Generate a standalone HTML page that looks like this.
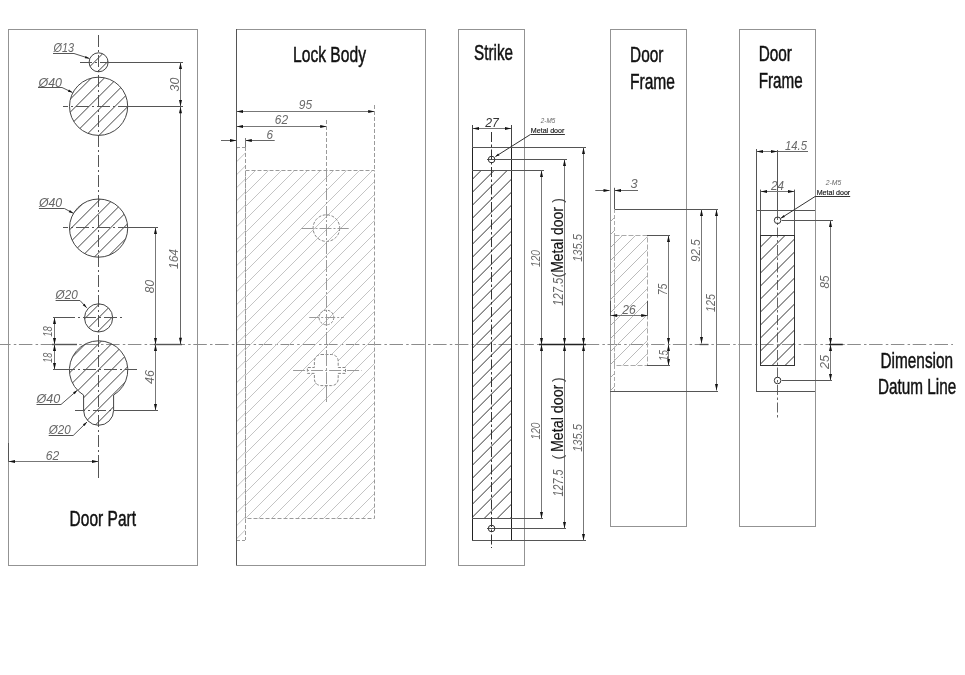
<!DOCTYPE html>
<html><head><meta charset="utf-8"><style>html,body{margin:0;padding:0;background:#fff;}svg{display:block;will-change:transform}</style></head>
<body><svg width="965" height="675" viewBox="0 0 965 675" fill="none">
<rect x="8.5" y="29.5" width="189" height="536" stroke="#939393" stroke-width="1" fill="none"/>
<rect x="236.5" y="29.5" width="189" height="536" stroke="#939393" stroke-width="1" fill="none"/>
<rect x="458.5" y="29.5" width="66" height="536" stroke="#939393" stroke-width="1" fill="none"/>
<rect x="610.5" y="29.5" width="76" height="497" stroke="#939393" stroke-width="1" fill="none"/>
<rect x="739.5" y="29.5" width="76" height="497" stroke="#939393" stroke-width="1" fill="none"/>
<line x1="0" y1="344.5" x2="953" y2="344.5" stroke="#8c8c8c" stroke-width="1" stroke-dasharray="13.5,3.2,2.5,2.6" stroke-dashoffset="2.9"/>
<line x1="98.5" y1="35" x2="98.5" y2="478" stroke="#555" stroke-width="1" stroke-dasharray="12,3,2,3"/>
<clipPath id="c13"><circle cx="98.6" cy="62.3" r="9.5"/></clipPath><g clip-path="url(#c13)">
<line x1="56.60000000000001" y1="73.8" x2="79.60000000000001" y2="50.8" stroke="#444" stroke-width="1"/>
<line x1="69.60000000000001" y1="73.8" x2="92.60000000000001" y2="50.8" stroke="#444" stroke-width="1"/>
<line x1="82.60000000000001" y1="73.8" x2="105.60000000000001" y2="50.8" stroke="#444" stroke-width="1"/>
<line x1="95.60000000000001" y1="73.8" x2="118.60000000000001" y2="50.8" stroke="#444" stroke-width="1"/>
<line x1="108.60000000000001" y1="73.8" x2="131.60000000000002" y2="50.8" stroke="#444" stroke-width="1"/>
</g>
<circle cx="98.6" cy="62.3" r="9.5" stroke="#444" stroke-width="1" fill="none"/>
<clipPath id="c40a"><circle cx="98.6" cy="106.3" r="29.1"/></clipPath><g clip-path="url(#c40a)">
<line x1="6.0" y1="137.4" x2="68.20000000000002" y2="75.19999999999999" stroke="#444" stroke-width="1"/>
<line x1="19.0" y1="137.4" x2="81.20000000000002" y2="75.19999999999999" stroke="#444" stroke-width="1"/>
<line x1="32.0" y1="137.4" x2="94.20000000000002" y2="75.19999999999999" stroke="#444" stroke-width="1"/>
<line x1="45.0" y1="137.4" x2="107.20000000000002" y2="75.19999999999999" stroke="#444" stroke-width="1"/>
<line x1="58.0" y1="137.4" x2="120.20000000000002" y2="75.19999999999999" stroke="#444" stroke-width="1"/>
<line x1="71.0" y1="137.4" x2="133.20000000000002" y2="75.19999999999999" stroke="#444" stroke-width="1"/>
<line x1="84.0" y1="137.4" x2="146.20000000000002" y2="75.19999999999999" stroke="#444" stroke-width="1"/>
<line x1="97.0" y1="137.4" x2="159.20000000000002" y2="75.19999999999999" stroke="#444" stroke-width="1"/>
<line x1="110.0" y1="137.4" x2="172.20000000000002" y2="75.19999999999999" stroke="#444" stroke-width="1"/>
<line x1="122.99999999999997" y1="137.4" x2="185.2" y2="75.19999999999999" stroke="#444" stroke-width="1"/>
<line x1="135.99999999999997" y1="137.4" x2="198.2" y2="75.19999999999999" stroke="#444" stroke-width="1"/>
</g>
<circle cx="98.6" cy="106.3" r="29.1" stroke="#444" stroke-width="1" fill="none"/>
<clipPath id="c40b"><circle cx="98.6" cy="228.1" r="29.1"/></clipPath><g clip-path="url(#c40b)">
<line x1="1.1999999999999886" y1="259.2" x2="63.39999999999998" y2="197.0" stroke="#444" stroke-width="1"/>
<line x1="14.199999999999989" y1="259.2" x2="76.39999999999998" y2="197.0" stroke="#444" stroke-width="1"/>
<line x1="27.19999999999999" y1="259.2" x2="89.39999999999998" y2="197.0" stroke="#444" stroke-width="1"/>
<line x1="40.19999999999999" y1="259.2" x2="102.39999999999998" y2="197.0" stroke="#444" stroke-width="1"/>
<line x1="53.19999999999999" y1="259.2" x2="115.39999999999998" y2="197.0" stroke="#444" stroke-width="1"/>
<line x1="66.19999999999999" y1="259.2" x2="128.39999999999998" y2="197.0" stroke="#444" stroke-width="1"/>
<line x1="79.19999999999999" y1="259.2" x2="141.39999999999998" y2="197.0" stroke="#444" stroke-width="1"/>
<line x1="92.19999999999999" y1="259.2" x2="154.39999999999998" y2="197.0" stroke="#444" stroke-width="1"/>
<line x1="105.19999999999999" y1="259.2" x2="167.39999999999998" y2="197.0" stroke="#444" stroke-width="1"/>
<line x1="118.19999999999999" y1="259.2" x2="180.39999999999998" y2="197.0" stroke="#444" stroke-width="1"/>
<line x1="131.2" y1="259.2" x2="193.39999999999998" y2="197.0" stroke="#444" stroke-width="1"/>
</g>
<circle cx="98.6" cy="228.1" r="29.1" stroke="#444" stroke-width="1" fill="none"/>
<clipPath id="c20a"><circle cx="98.6" cy="317.9" r="14.1"/></clipPath><g clip-path="url(#c20a)">
<line x1="43.39999999999998" y1="334.0" x2="75.60000000000002" y2="301.79999999999995" stroke="#444" stroke-width="1"/>
<line x1="56.39999999999998" y1="334.0" x2="88.60000000000002" y2="301.79999999999995" stroke="#444" stroke-width="1"/>
<line x1="69.39999999999998" y1="334.0" x2="101.60000000000002" y2="301.79999999999995" stroke="#444" stroke-width="1"/>
<line x1="82.39999999999998" y1="334.0" x2="114.60000000000002" y2="301.79999999999995" stroke="#444" stroke-width="1"/>
<line x1="95.39999999999998" y1="334.0" x2="127.60000000000002" y2="301.79999999999995" stroke="#444" stroke-width="1"/>
<line x1="108.39999999999998" y1="334.0" x2="140.60000000000002" y2="301.79999999999995" stroke="#444" stroke-width="1"/>
<line x1="121.39999999999998" y1="334.0" x2="153.60000000000002" y2="301.79999999999995" stroke="#444" stroke-width="1"/>
</g>
<circle cx="98.6" cy="317.9" r="14.1" stroke="#444" stroke-width="1" fill="none"/>
<clipPath id="kh"><circle cx="98.6" cy="370.0" r="29.2"/><circle cx="98.6" cy="410.3" r="15.0"/><rect x="83.6" y="370.0" width="30.0" height="40.30000000000001"/></clipPath><g clip-path="url(#kh)">
<line x1="-23.900000000000034" y1="427.3" x2="64.59999999999997" y2="338.8" stroke="#444" stroke-width="1"/>
<line x1="-10.900000000000034" y1="427.3" x2="77.59999999999997" y2="338.8" stroke="#444" stroke-width="1"/>
<line x1="2.099999999999966" y1="427.3" x2="90.59999999999997" y2="338.8" stroke="#444" stroke-width="1"/>
<line x1="15.099999999999966" y1="427.3" x2="103.59999999999997" y2="338.8" stroke="#444" stroke-width="1"/>
<line x1="28.099999999999966" y1="427.3" x2="116.59999999999997" y2="338.8" stroke="#444" stroke-width="1"/>
<line x1="41.099999999999966" y1="427.3" x2="129.59999999999997" y2="338.8" stroke="#444" stroke-width="1"/>
<line x1="54.099999999999966" y1="427.3" x2="142.59999999999997" y2="338.8" stroke="#444" stroke-width="1"/>
<line x1="67.09999999999997" y1="427.3" x2="155.59999999999997" y2="338.8" stroke="#444" stroke-width="1"/>
<line x1="80.09999999999997" y1="427.3" x2="168.59999999999997" y2="338.8" stroke="#444" stroke-width="1"/>
<line x1="93.09999999999997" y1="427.3" x2="181.59999999999997" y2="338.8" stroke="#444" stroke-width="1"/>
<line x1="106.09999999999997" y1="427.3" x2="194.59999999999997" y2="338.8" stroke="#444" stroke-width="1"/>
<line x1="119.09999999999997" y1="427.3" x2="207.59999999999997" y2="338.8" stroke="#444" stroke-width="1"/>
<line x1="132.09999999999997" y1="427.3" x2="220.59999999999997" y2="338.8" stroke="#444" stroke-width="1"/>
</g>
<path d="M 83.60 395.05 A 29.2 29.2 0 1 1 113.60 395.05 L 113.60 410.3 A 15.0 15.0 0 0 1 83.60 410.3 Z" stroke="#444" fill="none"/>
<line x1="80" y1="62.5" x2="108" y2="62.5" stroke="#555" stroke-width="1" stroke-dasharray="13,3,2,3" stroke-dashoffset="1"/>
<line x1="108" y1="62.5" x2="183" y2="62.5" stroke="#555" stroke-width="1"/>
<line x1="63" y1="106.5" x2="128" y2="106.5" stroke="#555" stroke-width="1" stroke-dasharray="13,3,2,3" stroke-dashoffset="8"/>
<line x1="128" y1="106.5" x2="183" y2="106.5" stroke="#555" stroke-width="1"/>
<line x1="63" y1="227.5" x2="128" y2="227.5" stroke="#555" stroke-width="1" stroke-dasharray="13,3,2,3" stroke-dashoffset="8"/>
<line x1="128" y1="227.5" x2="158" y2="227.5" stroke="#555" stroke-width="1"/>
<line x1="53" y1="317.5" x2="75" y2="317.5" stroke="#555" stroke-width="1"/>
<line x1="75" y1="317.5" x2="122" y2="317.5" stroke="#555" stroke-width="1" stroke-dasharray="13,3,2,3" stroke-dashoffset="13"/>
<line x1="53" y1="369.5" x2="75" y2="369.5" stroke="#555" stroke-width="1"/>
<line x1="75" y1="369.5" x2="137" y2="369.5" stroke="#555" stroke-width="1" stroke-dasharray="13,3,2,3" stroke-dashoffset="13"/>
<line x1="75" y1="410.5" x2="115" y2="410.5" stroke="#555" stroke-width="1" stroke-dasharray="13,3,2,3" stroke-dashoffset="3"/>
<line x1="115" y1="410.5" x2="158" y2="410.5" stroke="#555" stroke-width="1"/>
<line x1="52" y1="344.5" x2="77" y2="344.5" stroke="#555" stroke-width="1.4"/>
<line x1="154" y1="344.5" x2="182" y2="344.5" stroke="#555" stroke-width="1.4"/>
<line x1="180.5" y1="62.5" x2="180.5" y2="106.5" stroke="#777" stroke-width="1"/>
<polygon points="180.50,62.50 182.00,69.00 179.00,69.00" fill="#111"/>
<polygon points="180.50,106.50 179.00,100.00 182.00,100.00" fill="#111"/>
<line x1="180.5" y1="106.5" x2="180.5" y2="344.5" stroke="#666" stroke-width="1"/>
<polygon points="180.50,106.80 182.00,113.30 179.00,113.30" fill="#111"/>
<polygon points="180.50,344.30 179.00,337.80 182.00,337.80" fill="#111"/>
<line x1="155.5" y1="227.5" x2="155.5" y2="344.5" stroke="#777" stroke-width="1"/>
<polygon points="155.50,227.50 157.00,234.00 154.00,234.00" fill="#111"/>
<polygon points="155.50,344.50 154.00,338.00 157.00,338.00" fill="#111"/>
<line x1="155.5" y1="344.5" x2="155.5" y2="410.5" stroke="#777" stroke-width="1"/>
<polygon points="155.50,344.50 157.00,351.00 154.00,351.00" fill="#111"/>
<polygon points="155.50,410.50 154.00,404.00 157.00,404.00" fill="#111"/>
<line x1="54.5" y1="317.5" x2="54.5" y2="344.5" stroke="#777" stroke-width="1"/>
<polygon points="54.50,317.50 56.00,324.00 53.00,324.00" fill="#111"/>
<polygon points="54.50,344.50 53.00,338.00 56.00,338.00" fill="#111"/>
<line x1="54.5" y1="344.5" x2="54.5" y2="369.5" stroke="#777" stroke-width="1"/>
<polygon points="54.50,344.50 56.00,351.00 53.00,351.00" fill="#111"/>
<polygon points="54.50,369.50 53.00,363.00 56.00,363.00" fill="#111"/>
<line x1="8.5" y1="443" x2="8.5" y2="462" stroke="#555" stroke-width="1"/>
<line x1="98.5" y1="462" x2="98.5" y2="478" stroke="#555" stroke-width="1"/>
<line x1="8.5" y1="461.5" x2="98.5" y2="461.5" stroke="#777" stroke-width="1"/>
<polygon points="8.50,461.50 15.00,460.00 15.00,463.00" fill="#111"/>
<polygon points="98.50,461.50 92.00,463.00 92.00,460.00" fill="#111"/>
<text x="178.66000000000003" y="84.5" font-family="Liberation Sans" font-size="13.5" font-style="italic" font-weight="normal" fill="#6a6a6a" text-anchor="middle" transform="rotate(-90 178.66000000000003 84.5)" textLength="13.8" lengthAdjust="spacingAndGlyphs">30</text>
<text x="178.36" y="259" font-family="Liberation Sans" font-size="13.5" font-style="italic" font-weight="normal" fill="#6a6a6a" text-anchor="middle" transform="rotate(-90 178.36 259)" textLength="20" lengthAdjust="spacingAndGlyphs">164</text>
<text x="154.26" y="286.6" font-family="Liberation Sans" font-size="13.5" font-style="italic" font-weight="normal" fill="#6a6a6a" text-anchor="middle" transform="rotate(-90 154.26 286.6)" textLength="13.3" lengthAdjust="spacingAndGlyphs">80</text>
<text x="153.86" y="377" font-family="Liberation Sans" font-size="13.5" font-style="italic" font-weight="normal" fill="#6a6a6a" text-anchor="middle" transform="rotate(-90 153.86 377)" textLength="13.8" lengthAdjust="spacingAndGlyphs">46</text>
<text x="51.76" y="331.5" font-family="Liberation Sans" font-size="13.5" font-style="italic" font-weight="normal" fill="#6a6a6a" text-anchor="middle" transform="rotate(-90 51.76 331.5)" textLength="10.5" lengthAdjust="spacingAndGlyphs">18</text>
<text x="51.76" y="357.8" font-family="Liberation Sans" font-size="13.5" font-style="italic" font-weight="normal" fill="#6a6a6a" text-anchor="middle" transform="rotate(-90 51.76 357.8)" textLength="10" lengthAdjust="spacingAndGlyphs">18</text>
<text x="52.5" y="460.36" font-family="Liberation Sans" font-size="13.5" font-style="italic" font-weight="normal" fill="#6a6a6a" text-anchor="middle" textLength="13.5" lengthAdjust="spacingAndGlyphs">62</text>
<text x="63.75" y="52.3" font-family="Liberation Sans" font-size="13" font-style="italic" font-weight="normal" fill="#666" text-anchor="middle" textLength="20.5" lengthAdjust="spacingAndGlyphs">Ø13</text>
<line x1="53" y1="53.5" x2="74" y2="53.5" stroke="#555" stroke-width="1"/>
<line x1="74" y1="53.5" x2="89.5" y2="58.5" stroke="#555" stroke-width="1"/>
<polygon points="89.50,58.50 84.85,58.26 85.59,55.98" fill="#111"/>
<text x="50.25" y="87" font-family="Liberation Sans" font-size="13" font-style="italic" font-weight="normal" fill="#666" text-anchor="middle" textLength="23.5" lengthAdjust="spacingAndGlyphs">Ø40</text>
<line x1="38" y1="87.5" x2="62" y2="87.5" stroke="#555" stroke-width="1"/>
<line x1="62" y1="87.5" x2="72.5" y2="92.5" stroke="#555" stroke-width="1"/>
<polygon points="72.50,92.50 67.92,91.65 68.95,89.48" fill="#111"/>
<text x="50.55" y="206.7" font-family="Liberation Sans" font-size="13" font-style="italic" font-weight="normal" fill="#666" text-anchor="middle" textLength="23.300000000000004" lengthAdjust="spacingAndGlyphs">Ø40</text>
<line x1="38.9" y1="208.5" x2="64.4" y2="208.5" stroke="#555" stroke-width="1"/>
<line x1="64.4" y1="208.5" x2="73.3" y2="213.3" stroke="#555" stroke-width="1"/>
<polygon points="73.30,213.30 68.77,212.22 69.91,210.11" fill="#111"/>
<text x="66.7" y="298.9" font-family="Liberation Sans" font-size="13" font-style="italic" font-weight="normal" fill="#666" text-anchor="middle" textLength="22.199999999999996" lengthAdjust="spacingAndGlyphs">Ø20</text>
<line x1="55.6" y1="300.5" x2="80" y2="300.5" stroke="#555" stroke-width="1"/>
<line x1="80" y1="300.5" x2="86.7" y2="307.8" stroke="#555" stroke-width="1"/>
<polygon points="86.70,307.80 82.77,305.30 84.54,303.67" fill="#111"/>
<text x="48.35" y="402.5" font-family="Liberation Sans" font-size="13" font-style="italic" font-weight="normal" fill="#666" text-anchor="middle" textLength="23.700000000000003" lengthAdjust="spacingAndGlyphs">Ø40</text>
<line x1="36.5" y1="404.5" x2="61" y2="404.5" stroke="#555" stroke-width="1"/>
<line x1="61" y1="404.5" x2="77.3" y2="390.3" stroke="#555" stroke-width="1"/>
<polygon points="77.30,390.30 74.70,394.16 73.12,392.35" fill="#111"/>
<text x="59.7" y="434.3" font-family="Liberation Sans" font-size="13" font-style="italic" font-weight="normal" fill="#666" text-anchor="middle" textLength="22.0" lengthAdjust="spacingAndGlyphs">Ø20</text>
<line x1="48.7" y1="435.5" x2="73.2" y2="435.5" stroke="#555" stroke-width="1"/>
<line x1="73.2" y1="435.5" x2="87" y2="422" stroke="#555" stroke-width="1"/>
<polygon points="87.00,422.00 84.62,426.00 82.94,424.29" fill="#111"/>
<text x="69.6" y="525.5" font-family="Liberation Sans" font-size="22.9" font-style="normal" font-weight="normal" fill="#111" text-anchor="start" textLength="66.4" lengthAdjust="spacingAndGlyphs" stroke="#111" stroke-width="0.5">Door Part</text>
<text x="293" y="61.5" font-family="Liberation Sans" font-size="22.9" font-style="normal" font-weight="normal" fill="#111" text-anchor="start" textLength="73" lengthAdjust="spacingAndGlyphs" stroke="#111" stroke-width="0.5">Lock Body</text>
<line x1="236.5" y1="111.5" x2="374.7" y2="111.5" stroke="#777" stroke-width="1"/>
<polygon points="236.50,111.50 243.00,110.00 243.00,113.00" fill="#111"/>
<polygon points="374.70,111.50 368.20,113.00 368.20,110.00" fill="#111"/>
<text x="305.5" y="109.36" font-family="Liberation Sans" font-size="13.5" font-style="italic" font-weight="normal" fill="#6a6a6a" text-anchor="middle" textLength="13.3" lengthAdjust="spacingAndGlyphs">95</text>
<line x1="236.5" y1="126.5" x2="326.7" y2="126.5" stroke="#777" stroke-width="1"/>
<polygon points="236.50,126.50 243.00,125.00 243.00,128.00" fill="#111"/>
<polygon points="326.70,126.50 320.20,128.00 320.20,125.00" fill="#111"/>
<text x="281.4" y="124.26" font-family="Liberation Sans" font-size="13.5" font-style="italic" font-weight="normal" fill="#6a6a6a" text-anchor="middle" textLength="13.3" lengthAdjust="spacingAndGlyphs">62</text>
<line x1="221" y1="140.5" x2="236.5" y2="140.5" stroke="#666" stroke-width="1"/>
<polygon points="236.50,140.50 230.00,142.00 230.00,139.00" fill="#111"/>
<line x1="245.3" y1="140.5" x2="274.7" y2="140.5" stroke="#666" stroke-width="1"/>
<polygon points="245.30,140.50 251.80,139.00 251.80,142.00" fill="#111"/>
<text x="269.8" y="138.66000000000003" font-family="Liberation Sans" font-size="13.5" font-style="italic" font-weight="normal" fill="#6a6a6a" text-anchor="middle" textLength="6.5" lengthAdjust="spacingAndGlyphs">6</text>
<line x1="374.5" y1="105" x2="374.5" y2="170" stroke="#9a9a9a" stroke-width="1" stroke-dasharray="4,2"/>
<line x1="326.5" y1="120" x2="326.5" y2="170" stroke="#9a9a9a" stroke-width="1" stroke-dasharray="4,2"/>
<line x1="245.5" y1="138" x2="245.5" y2="147" stroke="#777" stroke-width="1"/>
<clipPath id="fp"><rect x="236.5" y="147.5" width="8.8" height="392.5"/></clipPath><g clip-path="url(#fp)">
<line x1="-169.7" y1="542" x2="226.8" y2="145.5" stroke="#c4c4c4" stroke-width="1"/>
<line x1="-156.7" y1="542" x2="239.8" y2="145.5" stroke="#c4c4c4" stroke-width="1"/>
<line x1="-143.7" y1="542" x2="252.8" y2="145.5" stroke="#c4c4c4" stroke-width="1"/>
<line x1="-130.7" y1="542" x2="265.8" y2="145.5" stroke="#c4c4c4" stroke-width="1"/>
<line x1="-117.69999999999999" y1="542" x2="278.8" y2="145.5" stroke="#c4c4c4" stroke-width="1"/>
<line x1="-104.69999999999999" y1="542" x2="291.8" y2="145.5" stroke="#c4c4c4" stroke-width="1"/>
<line x1="-91.69999999999999" y1="542" x2="304.8" y2="145.5" stroke="#c4c4c4" stroke-width="1"/>
<line x1="-78.69999999999999" y1="542" x2="317.8" y2="145.5" stroke="#c4c4c4" stroke-width="1"/>
<line x1="-65.69999999999999" y1="542" x2="330.8" y2="145.5" stroke="#c4c4c4" stroke-width="1"/>
<line x1="-52.69999999999999" y1="542" x2="343.8" y2="145.5" stroke="#c4c4c4" stroke-width="1"/>
<line x1="-39.69999999999999" y1="542" x2="356.8" y2="145.5" stroke="#c4c4c4" stroke-width="1"/>
<line x1="-26.700000000000045" y1="542" x2="369.79999999999995" y2="145.5" stroke="#c4c4c4" stroke-width="1"/>
<line x1="-13.700000000000045" y1="542" x2="382.79999999999995" y2="145.5" stroke="#c4c4c4" stroke-width="1"/>
<line x1="-0.7000000000000455" y1="542" x2="395.79999999999995" y2="145.5" stroke="#c4c4c4" stroke-width="1"/>
<line x1="12.299999999999955" y1="542" x2="408.79999999999995" y2="145.5" stroke="#c4c4c4" stroke-width="1"/>
<line x1="25.299999999999955" y1="542" x2="421.79999999999995" y2="145.5" stroke="#c4c4c4" stroke-width="1"/>
<line x1="38.299999999999955" y1="542" x2="434.79999999999995" y2="145.5" stroke="#c4c4c4" stroke-width="1"/>
<line x1="51.299999999999955" y1="542" x2="447.79999999999995" y2="145.5" stroke="#c4c4c4" stroke-width="1"/>
<line x1="64.29999999999995" y1="542" x2="460.79999999999995" y2="145.5" stroke="#c4c4c4" stroke-width="1"/>
<line x1="77.29999999999995" y1="542" x2="473.79999999999995" y2="145.5" stroke="#c4c4c4" stroke-width="1"/>
<line x1="90.29999999999995" y1="542" x2="486.79999999999995" y2="145.5" stroke="#c4c4c4" stroke-width="1"/>
<line x1="103.29999999999995" y1="542" x2="499.79999999999995" y2="145.5" stroke="#c4c4c4" stroke-width="1"/>
<line x1="116.29999999999995" y1="542" x2="512.8" y2="145.5" stroke="#c4c4c4" stroke-width="1"/>
<line x1="129.29999999999995" y1="542" x2="525.8" y2="145.5" stroke="#c4c4c4" stroke-width="1"/>
<line x1="142.29999999999995" y1="542" x2="538.8" y2="145.5" stroke="#c4c4c4" stroke-width="1"/>
<line x1="155.29999999999995" y1="542" x2="551.8" y2="145.5" stroke="#c4c4c4" stroke-width="1"/>
<line x1="168.29999999999995" y1="542" x2="564.8" y2="145.5" stroke="#c4c4c4" stroke-width="1"/>
<line x1="181.29999999999995" y1="542" x2="577.8" y2="145.5" stroke="#c4c4c4" stroke-width="1"/>
<line x1="194.29999999999995" y1="542" x2="590.8" y2="145.5" stroke="#c4c4c4" stroke-width="1"/>
<line x1="207.29999999999995" y1="542" x2="603.8" y2="145.5" stroke="#c4c4c4" stroke-width="1"/>
<line x1="220.29999999999995" y1="542" x2="616.8" y2="145.5" stroke="#c4c4c4" stroke-width="1"/>
<line x1="233.29999999999995" y1="542" x2="629.8" y2="145.5" stroke="#c4c4c4" stroke-width="1"/>
<line x1="246.29999999999995" y1="542" x2="642.8" y2="145.5" stroke="#c4c4c4" stroke-width="1"/>
</g>
<line x1="236" y1="147.5" x2="245" y2="147.5" stroke="#9a9a9a" stroke-width="1" stroke-dasharray="4,2"/>
<line x1="236" y1="540.5" x2="245" y2="540.5" stroke="#9a9a9a" stroke-width="1" stroke-dasharray="4,2"/>
<line x1="245.5" y1="147" x2="245.5" y2="540" stroke="#9a9a9a" stroke-width="1" stroke-dasharray="4,2"/>
<line x1="236.5" y1="29" x2="236.5" y2="565" stroke="#555" stroke-width="1"/>
<clipPath id="bd"><rect x="245.5" y="170.5" width="129" height="348"/></clipPath><g clip-path="url(#bd)">
<line x1="-107.5" y1="520.5" x2="244.5" y2="168.5" stroke="#c4c4c4" stroke-width="1"/>
<line x1="-94.5" y1="520.5" x2="257.5" y2="168.5" stroke="#c4c4c4" stroke-width="1"/>
<line x1="-81.5" y1="520.5" x2="270.5" y2="168.5" stroke="#c4c4c4" stroke-width="1"/>
<line x1="-68.5" y1="520.5" x2="283.5" y2="168.5" stroke="#c4c4c4" stroke-width="1"/>
<line x1="-55.5" y1="520.5" x2="296.5" y2="168.5" stroke="#c4c4c4" stroke-width="1"/>
<line x1="-42.5" y1="520.5" x2="309.5" y2="168.5" stroke="#c4c4c4" stroke-width="1"/>
<line x1="-29.5" y1="520.5" x2="322.5" y2="168.5" stroke="#c4c4c4" stroke-width="1"/>
<line x1="-16.5" y1="520.5" x2="335.5" y2="168.5" stroke="#c4c4c4" stroke-width="1"/>
<line x1="-3.5" y1="520.5" x2="348.5" y2="168.5" stroke="#c4c4c4" stroke-width="1"/>
<line x1="9.5" y1="520.5" x2="361.5" y2="168.5" stroke="#c4c4c4" stroke-width="1"/>
<line x1="22.5" y1="520.5" x2="374.5" y2="168.5" stroke="#c4c4c4" stroke-width="1"/>
<line x1="35.5" y1="520.5" x2="387.5" y2="168.5" stroke="#c4c4c4" stroke-width="1"/>
<line x1="48.5" y1="520.5" x2="400.5" y2="168.5" stroke="#c4c4c4" stroke-width="1"/>
<line x1="61.5" y1="520.5" x2="413.5" y2="168.5" stroke="#c4c4c4" stroke-width="1"/>
<line x1="74.5" y1="520.5" x2="426.5" y2="168.5" stroke="#c4c4c4" stroke-width="1"/>
<line x1="87.5" y1="520.5" x2="439.5" y2="168.5" stroke="#c4c4c4" stroke-width="1"/>
<line x1="100.5" y1="520.5" x2="452.5" y2="168.5" stroke="#c4c4c4" stroke-width="1"/>
<line x1="113.5" y1="520.5" x2="465.5" y2="168.5" stroke="#c4c4c4" stroke-width="1"/>
<line x1="126.5" y1="520.5" x2="478.5" y2="168.5" stroke="#c4c4c4" stroke-width="1"/>
<line x1="139.5" y1="520.5" x2="491.5" y2="168.5" stroke="#c4c4c4" stroke-width="1"/>
<line x1="152.5" y1="520.5" x2="504.5" y2="168.5" stroke="#c4c4c4" stroke-width="1"/>
<line x1="165.5" y1="520.5" x2="517.5" y2="168.5" stroke="#c4c4c4" stroke-width="1"/>
<line x1="178.5" y1="520.5" x2="530.5" y2="168.5" stroke="#c4c4c4" stroke-width="1"/>
<line x1="191.5" y1="520.5" x2="543.5" y2="168.5" stroke="#c4c4c4" stroke-width="1"/>
<line x1="204.5" y1="520.5" x2="556.5" y2="168.5" stroke="#c4c4c4" stroke-width="1"/>
<line x1="217.5" y1="520.5" x2="569.5" y2="168.5" stroke="#c4c4c4" stroke-width="1"/>
<line x1="230.5" y1="520.5" x2="582.5" y2="168.5" stroke="#c4c4c4" stroke-width="1"/>
<line x1="243.5" y1="520.5" x2="595.5" y2="168.5" stroke="#c4c4c4" stroke-width="1"/>
<line x1="256.5" y1="520.5" x2="608.5" y2="168.5" stroke="#c4c4c4" stroke-width="1"/>
<line x1="269.5" y1="520.5" x2="621.5" y2="168.5" stroke="#c4c4c4" stroke-width="1"/>
<line x1="282.5" y1="520.5" x2="634.5" y2="168.5" stroke="#c4c4c4" stroke-width="1"/>
<line x1="295.5" y1="520.5" x2="647.5" y2="168.5" stroke="#c4c4c4" stroke-width="1"/>
<line x1="308.5" y1="520.5" x2="660.5" y2="168.5" stroke="#c4c4c4" stroke-width="1"/>
<line x1="321.5" y1="520.5" x2="673.5" y2="168.5" stroke="#c4c4c4" stroke-width="1"/>
<line x1="334.5" y1="520.5" x2="686.5" y2="168.5" stroke="#c4c4c4" stroke-width="1"/>
<line x1="347.5" y1="520.5" x2="699.5" y2="168.5" stroke="#c4c4c4" stroke-width="1"/>
<line x1="360.5" y1="520.5" x2="712.5" y2="168.5" stroke="#c4c4c4" stroke-width="1"/>
<line x1="373.5" y1="520.5" x2="725.5" y2="168.5" stroke="#c4c4c4" stroke-width="1"/>
</g>
<rect x="245.5" y="170.5" width="129" height="348" stroke="#9a9a9a" stroke-width="1" fill="none" stroke-dasharray="4,2"/>
<line x1="326.5" y1="170" x2="326.5" y2="404" stroke="#9a9a9a" stroke-width="1" stroke-dasharray="12,2,2,2"/>
<circle cx="326.4" cy="228.1" r="13.3" stroke="#888" stroke-width="1" fill="none" stroke-dasharray="3,1.5"/>
<line x1="301.5" y1="228.5" x2="348.7" y2="228.5" stroke="#9a9a9a" stroke-width="1" stroke-dasharray="12,2,2,2"/>
<circle cx="326.4" cy="317.5" r="7.35" stroke="#888" stroke-width="1" fill="none" stroke-dasharray="2.5,1.5"/>
<line x1="309.2" y1="317.5" x2="343.6" y2="317.5" stroke="#9a9a9a" stroke-width="1" stroke-dasharray="10,2,2,2"/>
<path d="M 321 354.5 L 331.5 354.5 A 6.7 6.7 0 0 1 338.2 361.2 L 338.2 367.5 L 345.5 367.5 L 345.5 373.4 L 338.2 373.4 L 338.2 379 A 6.6 6.6 0 0 1 331.6 385.6 L 321 385.6 A 6.6 6.6 0 0 1 314.4 379 L 314.4 373.4 L 307.4 373.4 L 307.4 367.5 L 314.4 367.5 L 314.4 361.2 A 6.7 6.7 0 0 1 321 354.5 Z" stroke="#888" fill="white" stroke-dasharray="3,1.5"/>
<line x1="293.1" y1="370.5" x2="361.6" y2="370.5" stroke="#9a9a9a" stroke-width="1" stroke-dasharray="12,2,2,2"/>
<line x1="326.5" y1="354" x2="326.5" y2="403.3" stroke="#9a9a9a" stroke-width="1" stroke-dasharray="12,2,2,2"/>
<text x="474" y="59.5" font-family="Liberation Sans" font-size="22.9" font-style="normal" font-weight="normal" fill="#111" text-anchor="start" textLength="39" lengthAdjust="spacingAndGlyphs" stroke="#111" stroke-width="0.5">Strike</text>
<line x1="472.5" y1="128.5" x2="511.5" y2="128.5" stroke="#777" stroke-width="1"/>
<polygon points="472.50,128.50 479.00,127.00 479.00,130.00" fill="#111"/>
<polygon points="511.50,128.50 505.00,130.00 505.00,127.00" fill="#111"/>
<text x="492" y="127.06" font-family="Liberation Sans" font-size="13.5" font-style="italic" font-weight="normal" fill="#333" text-anchor="middle" textLength="13.6" lengthAdjust="spacingAndGlyphs">27</text>
<line x1="472.5" y1="125" x2="472.5" y2="147" stroke="#444" stroke-width="1"/>
<line x1="511.5" y1="125" x2="511.5" y2="147" stroke="#444" stroke-width="1"/>
<rect x="472.5" y="147.5" width="39" height="393" stroke="#222" stroke-width="1" fill="none"/>
<clipPath id="st"><rect x="472.5" y="170.5" width="39" height="347.5"/></clipPath><g clip-path="url(#st)">
<line x1="118.60000000000002" y1="520" x2="470.1" y2="168.5" stroke="#333" stroke-width="1"/>
<line x1="131.60000000000002" y1="520" x2="483.1" y2="168.5" stroke="#333" stroke-width="1"/>
<line x1="144.60000000000002" y1="520" x2="496.1" y2="168.5" stroke="#333" stroke-width="1"/>
<line x1="157.60000000000002" y1="520" x2="509.1" y2="168.5" stroke="#333" stroke-width="1"/>
<line x1="170.60000000000002" y1="520" x2="522.1" y2="168.5" stroke="#333" stroke-width="1"/>
<line x1="183.60000000000002" y1="520" x2="535.1" y2="168.5" stroke="#333" stroke-width="1"/>
<line x1="196.60000000000002" y1="520" x2="548.1" y2="168.5" stroke="#333" stroke-width="1"/>
<line x1="209.60000000000002" y1="520" x2="561.1" y2="168.5" stroke="#333" stroke-width="1"/>
<line x1="222.60000000000002" y1="520" x2="574.1" y2="168.5" stroke="#333" stroke-width="1"/>
<line x1="235.60000000000002" y1="520" x2="587.1" y2="168.5" stroke="#333" stroke-width="1"/>
<line x1="248.60000000000002" y1="520" x2="600.1" y2="168.5" stroke="#333" stroke-width="1"/>
<line x1="261.6" y1="520" x2="613.1" y2="168.5" stroke="#333" stroke-width="1"/>
<line x1="274.6" y1="520" x2="626.1" y2="168.5" stroke="#333" stroke-width="1"/>
<line x1="287.6" y1="520" x2="639.1" y2="168.5" stroke="#333" stroke-width="1"/>
<line x1="300.6" y1="520" x2="652.1" y2="168.5" stroke="#333" stroke-width="1"/>
<line x1="313.6" y1="520" x2="665.1" y2="168.5" stroke="#333" stroke-width="1"/>
<line x1="326.6" y1="520" x2="678.1" y2="168.5" stroke="#333" stroke-width="1"/>
<line x1="339.6" y1="520" x2="691.1" y2="168.5" stroke="#333" stroke-width="1"/>
<line x1="352.6" y1="520" x2="704.1" y2="168.5" stroke="#333" stroke-width="1"/>
<line x1="365.6" y1="520" x2="717.1" y2="168.5" stroke="#333" stroke-width="1"/>
<line x1="378.6" y1="520" x2="730.1" y2="168.5" stroke="#333" stroke-width="1"/>
<line x1="391.6" y1="520" x2="743.1" y2="168.5" stroke="#333" stroke-width="1"/>
<line x1="404.6" y1="520" x2="756.1" y2="168.5" stroke="#333" stroke-width="1"/>
<line x1="417.6" y1="520" x2="769.1" y2="168.5" stroke="#333" stroke-width="1"/>
<line x1="430.6" y1="520" x2="782.1" y2="168.5" stroke="#333" stroke-width="1"/>
<line x1="443.6" y1="520" x2="795.1" y2="168.5" stroke="#333" stroke-width="1"/>
<line x1="456.6" y1="520" x2="808.1" y2="168.5" stroke="#333" stroke-width="1"/>
<line x1="469.6" y1="520" x2="821.1" y2="168.5" stroke="#333" stroke-width="1"/>
<line x1="482.6" y1="520" x2="834.1" y2="168.5" stroke="#333" stroke-width="1"/>
<line x1="495.6" y1="520" x2="847.1" y2="168.5" stroke="#333" stroke-width="1"/>
<line x1="508.5999999999999" y1="520" x2="860.0999999999999" y2="168.5" stroke="#333" stroke-width="1"/>
<line x1="521.5999999999999" y1="520" x2="873.0999999999999" y2="168.5" stroke="#333" stroke-width="1"/>
</g>
<line x1="472" y1="170.5" x2="544" y2="170.5" stroke="#555" stroke-width="1"/>
<line x1="472" y1="518.5" x2="543" y2="518.5" stroke="#555" stroke-width="1"/>
<line x1="487" y1="159.5" x2="567" y2="159.5" stroke="#555" stroke-width="1"/>
<line x1="487" y1="528.5" x2="566" y2="528.5" stroke="#555" stroke-width="1"/>
<line x1="472" y1="147.5" x2="586" y2="147.5" stroke="#555" stroke-width="1"/>
<line x1="472" y1="540.5" x2="586" y2="540.5" stroke="#555" stroke-width="1"/>
<line x1="491.5" y1="132" x2="491.5" y2="548" stroke="#333" stroke-width="1" stroke-dasharray="10,2.5,2.5,2.5"/>
<circle cx="491.6" cy="159.5" r="3.3" stroke="#333" stroke-width="1" fill="none"/>
<circle cx="491.6" cy="528.5" r="3.3" stroke="#333" stroke-width="1" fill="none"/>
<line x1="541.5" y1="170.5" x2="541.5" y2="344.5" stroke="#777" stroke-width="1"/>
<polygon points="541.50,170.50 543.00,177.00 540.00,177.00" fill="#111"/>
<polygon points="541.50,344.50 540.00,338.00 543.00,338.00" fill="#111"/>
<line x1="541.5" y1="344.5" x2="541.5" y2="518.5" stroke="#777" stroke-width="1"/>
<polygon points="541.50,344.50 543.00,351.00 540.00,351.00" fill="#111"/>
<polygon points="541.50,518.50 540.00,512.00 543.00,512.00" fill="#111"/>
<line x1="564.5" y1="159.5" x2="564.5" y2="344.5" stroke="#777" stroke-width="1"/>
<polygon points="564.50,159.50 566.00,166.00 563.00,166.00" fill="#111"/>
<polygon points="564.50,344.50 563.00,338.00 566.00,338.00" fill="#111"/>
<line x1="564.5" y1="344.5" x2="564.5" y2="528.5" stroke="#777" stroke-width="1"/>
<polygon points="564.50,344.50 566.00,351.00 563.00,351.00" fill="#111"/>
<polygon points="564.50,528.50 563.00,522.00 566.00,522.00" fill="#111"/>
<line x1="583.5" y1="147.5" x2="583.5" y2="344.5" stroke="#777" stroke-width="1"/>
<polygon points="583.50,147.50 585.00,154.00 582.00,154.00" fill="#111"/>
<polygon points="583.50,344.50 582.00,338.00 585.00,338.00" fill="#111"/>
<line x1="583.5" y1="344.5" x2="583.5" y2="540.5" stroke="#777" stroke-width="1"/>
<polygon points="583.50,344.50 585.00,351.00 582.00,351.00" fill="#111"/>
<polygon points="583.50,540.50 582.00,534.00 585.00,534.00" fill="#111"/>
<line x1="539" y1="344.5" x2="586" y2="344.5" stroke="#222" stroke-width="1.6"/>
<text x="540.46" y="258.5" font-family="Liberation Sans" font-size="13.5" font-style="italic" font-weight="normal" fill="#6a6a6a" text-anchor="middle" transform="rotate(-90 540.46 258.5)" textLength="17" lengthAdjust="spacingAndGlyphs">120</text>
<text x="539.86" y="431" font-family="Liberation Sans" font-size="13.5" font-style="italic" font-weight="normal" fill="#6a6a6a" text-anchor="middle" transform="rotate(-90 539.86 431)" textLength="17" lengthAdjust="spacingAndGlyphs">120</text>
<text x="582.36" y="248" font-family="Liberation Sans" font-size="13.5" font-style="italic" font-weight="normal" fill="#6a6a6a" text-anchor="middle" transform="rotate(-90 582.36 248)" textLength="27.7" lengthAdjust="spacingAndGlyphs">135.5</text>
<text x="581.86" y="438" font-family="Liberation Sans" font-size="13.5" font-style="italic" font-weight="normal" fill="#6a6a6a" text-anchor="middle" transform="rotate(-90 581.86 438)" textLength="27.7" lengthAdjust="spacingAndGlyphs">135.5</text>
<g transform="translate(562.8 305.7) rotate(-90)" font-family="Liberation Sans"><text x="0" y="0" font-size="14.5" font-style="italic" fill="#666" textLength="28" lengthAdjust="spacingAndGlyphs">127.5</text><text x="28.3" y="0" font-size="14" fill="#444">(</text><text x="33" y="0" font-size="16" fill="#111" stroke="#111" stroke-width="0.15" textLength="65.6" lengthAdjust="spacingAndGlyphs">Metal door</text><text x="103" y="0" font-size="14" fill="#444">)</text></g>
<g transform="translate(562.8 496.5) rotate(-90)" font-family="Liberation Sans"><text x="0" y="0" font-size="14.5" font-style="italic" fill="#666" textLength="27" lengthAdjust="spacingAndGlyphs">127.5</text><text x="37" y="0" font-size="14" fill="#444">(</text><text x="44.5" y="0" font-size="16" fill="#111" stroke="#111" stroke-width="0.15" textLength="67.3" lengthAdjust="spacingAndGlyphs">Metal door</text><text x="114.5" y="0" font-size="14" fill="#444">)</text></g>
<text x="548" y="123.3" font-family="Liberation Sans" font-size="6.5" font-style="italic" font-weight="normal" fill="#666" text-anchor="middle" textLength="14.5" lengthAdjust="spacingAndGlyphs">2-M5</text>
<text x="530.8" y="133.3" font-family="Liberation Sans" font-size="8" font-style="normal" font-weight="normal" fill="#111" text-anchor="start" textLength="33.6" lengthAdjust="spacingAndGlyphs" stroke="#111" stroke-width="0.15">Metal door</text>
<line x1="530.4" y1="134.5" x2="564.9" y2="134.5" stroke="#333" stroke-width="1"/>
<line x1="530.4" y1="134.5" x2="495.4" y2="156.6" stroke="#333" stroke-width="1"/>
<polygon points="495.40,156.60 498.14,153.45 499.42,155.48" fill="#111"/>
<text x="630" y="62.2" font-family="Liberation Sans" font-size="22.9" font-style="normal" font-weight="normal" fill="#111" text-anchor="start" textLength="33.4" lengthAdjust="spacingAndGlyphs" stroke="#111" stroke-width="0.5">Door</text>
<text x="630" y="88.9" font-family="Liberation Sans" font-size="22.9" font-style="normal" font-weight="normal" fill="#111" text-anchor="start" textLength="45" lengthAdjust="spacingAndGlyphs" stroke="#111" stroke-width="0.5">Frame</text>
<line x1="595.3" y1="190.5" x2="609.5" y2="190.5" stroke="#666" stroke-width="1"/>
<polygon points="610.00,190.50 603.50,192.00 603.50,189.00" fill="#111"/>
<line x1="614.9" y1="190.5" x2="638" y2="190.5" stroke="#666" stroke-width="1"/>
<polygon points="614.50,190.50 621.00,189.00 621.00,192.00" fill="#111"/>
<text x="634" y="188.16000000000003" font-family="Liberation Sans" font-size="13.5" font-style="italic" font-weight="normal" fill="#6a6a6a" text-anchor="middle" textLength="7.1" lengthAdjust="spacingAndGlyphs">3</text>
<line x1="614.5" y1="187.8" x2="614.5" y2="209" stroke="#555" stroke-width="1"/>
<clipPath id="df"><rect x="610.5" y="209.5" width="4" height="181.5"/></clipPath><g clip-path="url(#df)">
<line x1="426" y1="393" x2="611.5" y2="207.5" stroke="#aaa" stroke-width="1"/>
<line x1="439" y1="393" x2="624.5" y2="207.5" stroke="#aaa" stroke-width="1"/>
<line x1="452" y1="393" x2="637.5" y2="207.5" stroke="#aaa" stroke-width="1"/>
<line x1="465" y1="393" x2="650.5" y2="207.5" stroke="#aaa" stroke-width="1"/>
<line x1="478" y1="393" x2="663.5" y2="207.5" stroke="#aaa" stroke-width="1"/>
<line x1="491" y1="393" x2="676.5" y2="207.5" stroke="#aaa" stroke-width="1"/>
<line x1="504" y1="393" x2="689.5" y2="207.5" stroke="#aaa" stroke-width="1"/>
<line x1="517" y1="393" x2="702.5" y2="207.5" stroke="#aaa" stroke-width="1"/>
<line x1="530" y1="393" x2="715.5" y2="207.5" stroke="#aaa" stroke-width="1"/>
<line x1="543" y1="393" x2="728.5" y2="207.5" stroke="#aaa" stroke-width="1"/>
<line x1="556" y1="393" x2="741.5" y2="207.5" stroke="#aaa" stroke-width="1"/>
<line x1="569" y1="393" x2="754.5" y2="207.5" stroke="#aaa" stroke-width="1"/>
<line x1="582" y1="393" x2="767.5" y2="207.5" stroke="#aaa" stroke-width="1"/>
<line x1="595" y1="393" x2="780.5" y2="207.5" stroke="#aaa" stroke-width="1"/>
<line x1="608" y1="393" x2="793.5" y2="207.5" stroke="#aaa" stroke-width="1"/>
<line x1="621" y1="393" x2="806.5" y2="207.5" stroke="#aaa" stroke-width="1"/>
</g>
<line x1="614" y1="209.5" x2="718" y2="209.5" stroke="#555" stroke-width="1"/>
<line x1="610" y1="391.5" x2="718" y2="391.5" stroke="#555" stroke-width="1"/>
<line x1="614.5" y1="209" x2="614.5" y2="391" stroke="#aaa" stroke-width="1" stroke-dasharray="4,2"/>
<clipPath id="dfb"><rect x="614.5" y="235.5" width="33" height="130"/></clipPath><g clip-path="url(#dfb)">
<line x1="477.5" y1="367.5" x2="611.5" y2="233.5" stroke="#bbb" stroke-width="1"/>
<line x1="490.5" y1="367.5" x2="624.5" y2="233.5" stroke="#bbb" stroke-width="1"/>
<line x1="503.5" y1="367.5" x2="637.5" y2="233.5" stroke="#bbb" stroke-width="1"/>
<line x1="516.5" y1="367.5" x2="650.5" y2="233.5" stroke="#bbb" stroke-width="1"/>
<line x1="529.5" y1="367.5" x2="663.5" y2="233.5" stroke="#bbb" stroke-width="1"/>
<line x1="542.5" y1="367.5" x2="676.5" y2="233.5" stroke="#bbb" stroke-width="1"/>
<line x1="555.5" y1="367.5" x2="689.5" y2="233.5" stroke="#bbb" stroke-width="1"/>
<line x1="568.5" y1="367.5" x2="702.5" y2="233.5" stroke="#bbb" stroke-width="1"/>
<line x1="581.5" y1="367.5" x2="715.5" y2="233.5" stroke="#bbb" stroke-width="1"/>
<line x1="594.5" y1="367.5" x2="728.5" y2="233.5" stroke="#bbb" stroke-width="1"/>
<line x1="607.5" y1="367.5" x2="741.5" y2="233.5" stroke="#bbb" stroke-width="1"/>
<line x1="620.5" y1="367.5" x2="754.5" y2="233.5" stroke="#bbb" stroke-width="1"/>
<line x1="633.5" y1="367.5" x2="767.5" y2="233.5" stroke="#bbb" stroke-width="1"/>
<line x1="646.5" y1="367.5" x2="780.5" y2="233.5" stroke="#bbb" stroke-width="1"/>
</g>
<rect x="614.5" y="235.5" width="33" height="130" stroke="#aaa" stroke-width="1" fill="none" stroke-dasharray="5,2"/>
<line x1="647" y1="235.5" x2="670" y2="235.5" stroke="#555" stroke-width="1"/>
<line x1="647" y1="365.5" x2="670" y2="365.5" stroke="#555" stroke-width="1"/>
<line x1="668.5" y1="235.5" x2="668.5" y2="344.5" stroke="#777" stroke-width="1"/>
<polygon points="668.50,235.50 670.00,242.00 667.00,242.00" fill="#111"/>
<polygon points="668.50,344.50 667.00,338.00 670.00,338.00" fill="#111"/>
<line x1="668.5" y1="344.5" x2="668.5" y2="365.5" stroke="#777" stroke-width="1"/>
<polygon points="668.50,344.50 670.00,351.00 667.00,351.00" fill="#111"/>
<polygon points="668.50,365.50 667.00,359.00 670.00,359.00" fill="#111"/>
<line x1="610.7" y1="315.5" x2="647.7" y2="315.5" stroke="#777" stroke-width="1"/>
<polygon points="610.70,315.50 617.20,314.00 617.20,317.00" fill="#111"/>
<polygon points="647.70,315.50 641.20,317.00 641.20,314.00" fill="#111"/>
<text x="629" y="313.86" font-family="Liberation Sans" font-size="13.5" font-style="italic" font-weight="normal" fill="#6a6a6a" text-anchor="middle" textLength="13.4" lengthAdjust="spacingAndGlyphs">26</text>
<line x1="610.5" y1="301" x2="610.5" y2="316" stroke="#555" stroke-width="1"/>
<line x1="647.5" y1="301" x2="647.5" y2="316" stroke="#555" stroke-width="1"/>
<line x1="701.5" y1="209.5" x2="701.5" y2="343.5" stroke="#777" stroke-width="1"/>
<polygon points="701.50,209.50 703.00,216.00 700.00,216.00" fill="#111"/>
<polygon points="701.50,343.50 700.00,337.00 703.00,337.00" fill="#111"/>
<line x1="716.5" y1="209.5" x2="716.5" y2="390.5" stroke="#777" stroke-width="1"/>
<polygon points="716.50,209.50 718.00,216.00 715.00,216.00" fill="#111"/>
<polygon points="716.50,390.50 715.00,384.00 718.00,384.00" fill="#111"/>
<line x1="699.6" y1="344.5" x2="708.5" y2="344.5" stroke="#555" stroke-width="1.3"/>
<text x="667.46" y="289.5" font-family="Liberation Sans" font-size="13.5" font-style="italic" font-weight="normal" fill="#6a6a6a" text-anchor="middle" transform="rotate(-90 667.46 289.5)" textLength="11.7" lengthAdjust="spacingAndGlyphs">75</text>
<text x="667.5600000000001" y="355.5" font-family="Liberation Sans" font-size="13.5" font-style="italic" font-weight="normal" fill="#6a6a6a" text-anchor="middle" transform="rotate(-90 667.5600000000001 355.5)" textLength="11" lengthAdjust="spacingAndGlyphs">15</text>
<text x="700.16" y="250.6" font-family="Liberation Sans" font-size="13.5" font-style="italic" font-weight="normal" fill="#6a6a6a" text-anchor="middle" transform="rotate(-90 700.16 250.6)" textLength="22.6" lengthAdjust="spacingAndGlyphs">92.5</text>
<text x="715.16" y="303" font-family="Liberation Sans" font-size="13.5" font-style="italic" font-weight="normal" fill="#6a6a6a" text-anchor="middle" transform="rotate(-90 715.16 303)" textLength="18" lengthAdjust="spacingAndGlyphs">125</text>
<text x="758.7" y="61.0" font-family="Liberation Sans" font-size="22.9" font-style="normal" font-weight="normal" fill="#111" text-anchor="start" textLength="33.3" lengthAdjust="spacingAndGlyphs" stroke="#111" stroke-width="0.5">Door</text>
<text x="758.7" y="87.7" font-family="Liberation Sans" font-size="22.9" font-style="normal" font-weight="normal" fill="#111" text-anchor="start" textLength="43.9" lengthAdjust="spacingAndGlyphs" stroke="#111" stroke-width="0.5">Frame</text>
<line x1="756.5" y1="151.5" x2="777.5" y2="151.5" stroke="#777" stroke-width="1"/>
<polygon points="756.50,151.50 763.00,150.00 763.00,153.00" fill="#111"/>
<polygon points="777.50,151.50 771.00,153.00 771.00,150.00" fill="#111"/>
<line x1="777" y1="151.5" x2="808" y2="151.5" stroke="#666" stroke-width="1"/>
<text x="796" y="149.66000000000003" font-family="Liberation Sans" font-size="13.5" font-style="italic" font-weight="normal" fill="#6a6a6a" text-anchor="middle" textLength="22" lengthAdjust="spacingAndGlyphs">14.5</text>
<line x1="756.5" y1="149" x2="756.5" y2="391" stroke="#555" stroke-width="1"/>
<line x1="777.5" y1="150" x2="777.5" y2="210" stroke="#555" stroke-width="1"/>
<line x1="777.5" y1="210" x2="777.5" y2="420" stroke="#666" stroke-width="1" stroke-dasharray="10,2.5,2.5,2.5"/>
<line x1="760.5" y1="191.5" x2="794.5" y2="191.5" stroke="#777" stroke-width="1"/>
<polygon points="760.50,191.50 767.00,190.00 767.00,193.00" fill="#111"/>
<polygon points="794.50,191.50 788.00,193.00 788.00,190.00" fill="#111"/>
<text x="777.5" y="190.06" font-family="Liberation Sans" font-size="13.5" font-style="italic" font-weight="normal" fill="#6a6a6a" text-anchor="middle" textLength="13" lengthAdjust="spacingAndGlyphs">24</text>
<line x1="760.5" y1="189.6" x2="760.5" y2="235" stroke="#555" stroke-width="1"/>
<line x1="794.5" y1="189.6" x2="794.5" y2="235" stroke="#555" stroke-width="1"/>
<line x1="756" y1="210.5" x2="815" y2="210.5" stroke="#555" stroke-width="1"/>
<line x1="756" y1="391.5" x2="815" y2="391.5" stroke="#555" stroke-width="1"/>
<rect x="760.5" y="235.5" width="34" height="130" stroke="#333" stroke-width="1" fill="none"/>
<clipPath id="f2"><rect x="760.5" y="235.5" width="34" height="130"/></clipPath><g clip-path="url(#f2)">
<line x1="627.0" y1="367.5" x2="761.0" y2="233.5" stroke="#333" stroke-width="1"/>
<line x1="640.0" y1="367.5" x2="774.0" y2="233.5" stroke="#333" stroke-width="1"/>
<line x1="653.0" y1="367.5" x2="787.0" y2="233.5" stroke="#333" stroke-width="1"/>
<line x1="666.0" y1="367.5" x2="800.0" y2="233.5" stroke="#333" stroke-width="1"/>
<line x1="679.0" y1="367.5" x2="813.0" y2="233.5" stroke="#333" stroke-width="1"/>
<line x1="692.0" y1="367.5" x2="826.0" y2="233.5" stroke="#333" stroke-width="1"/>
<line x1="705.0" y1="367.5" x2="839.0" y2="233.5" stroke="#333" stroke-width="1"/>
<line x1="718.0" y1="367.5" x2="852.0" y2="233.5" stroke="#333" stroke-width="1"/>
<line x1="731.0" y1="367.5" x2="865.0" y2="233.5" stroke="#333" stroke-width="1"/>
<line x1="744.0" y1="367.5" x2="878.0" y2="233.5" stroke="#333" stroke-width="1"/>
<line x1="757.0" y1="367.5" x2="891.0" y2="233.5" stroke="#333" stroke-width="1"/>
<line x1="770.0" y1="367.5" x2="904.0" y2="233.5" stroke="#333" stroke-width="1"/>
<line x1="783.0" y1="367.5" x2="917.0" y2="233.5" stroke="#333" stroke-width="1"/>
<line x1="796.0" y1="367.5" x2="930.0" y2="233.5" stroke="#333" stroke-width="1"/>
</g>
<circle cx="777.6" cy="220.3" r="3.3" stroke="#333" stroke-width="1" fill="none"/>
<circle cx="777.6" cy="380.5" r="3.3" stroke="#333" stroke-width="1" fill="none"/>
<line x1="781.7" y1="220.5" x2="833" y2="220.5" stroke="#555" stroke-width="1"/>
<line x1="781.7" y1="380.5" x2="832" y2="380.5" stroke="#555" stroke-width="1"/>
<line x1="830.5" y1="220.5" x2="830.5" y2="344.5" stroke="#777" stroke-width="1"/>
<polygon points="830.50,220.50 832.00,227.00 829.00,227.00" fill="#111"/>
<polygon points="830.50,344.50 829.00,338.00 832.00,338.00" fill="#111"/>
<line x1="830.5" y1="344.5" x2="830.5" y2="380.5" stroke="#777" stroke-width="1"/>
<polygon points="830.50,344.50 832.00,351.00 829.00,351.00" fill="#111"/>
<polygon points="830.50,380.50 829.00,374.00 832.00,374.00" fill="#111"/>
<line x1="829" y1="344.5" x2="842.8" y2="344.5" stroke="#222" stroke-width="1.5"/>
<text x="829.0600000000001" y="282" font-family="Liberation Sans" font-size="13.5" font-style="italic" font-weight="normal" fill="#6a6a6a" text-anchor="middle" transform="rotate(-90 829.0600000000001 282)" textLength="13" lengthAdjust="spacingAndGlyphs">85</text>
<text x="829.36" y="362" font-family="Liberation Sans" font-size="13.5" font-style="italic" font-weight="normal" fill="#6a6a6a" text-anchor="middle" transform="rotate(-90 829.36 362)" textLength="14" lengthAdjust="spacingAndGlyphs">25</text>
<text x="833.5" y="184.5" font-family="Liberation Sans" font-size="6.5" font-style="italic" font-weight="normal" fill="#666" text-anchor="middle" textLength="15.5" lengthAdjust="spacingAndGlyphs">2-M5</text>
<text x="816.7" y="195.3" font-family="Liberation Sans" font-size="8" font-style="normal" font-weight="normal" fill="#111" text-anchor="start" textLength="33.5" lengthAdjust="spacingAndGlyphs" stroke="#111" stroke-width="0.15">Metal door</text>
<line x1="815.1" y1="196.5" x2="850.2" y2="196.5" stroke="#333" stroke-width="1"/>
<line x1="815.1" y1="196.5" x2="780.9" y2="218.2" stroke="#333" stroke-width="1"/>
<polygon points="780.90,218.20 783.63,215.04 784.92,217.07" fill="#111"/>
<text x="880.5" y="367.5" font-family="Liberation Sans" font-size="22.9" font-style="normal" font-weight="normal" fill="#111" text-anchor="start" textLength="72.6" lengthAdjust="spacingAndGlyphs" stroke="#111" stroke-width="0.5">Dimension</text>
<text x="878" y="393.9" font-family="Liberation Sans" font-size="22.9" font-style="normal" font-weight="normal" fill="#111" text-anchor="start" textLength="78.2" lengthAdjust="spacingAndGlyphs" stroke="#111" stroke-width="0.5">Datum Line</text>
</svg></body></html>
